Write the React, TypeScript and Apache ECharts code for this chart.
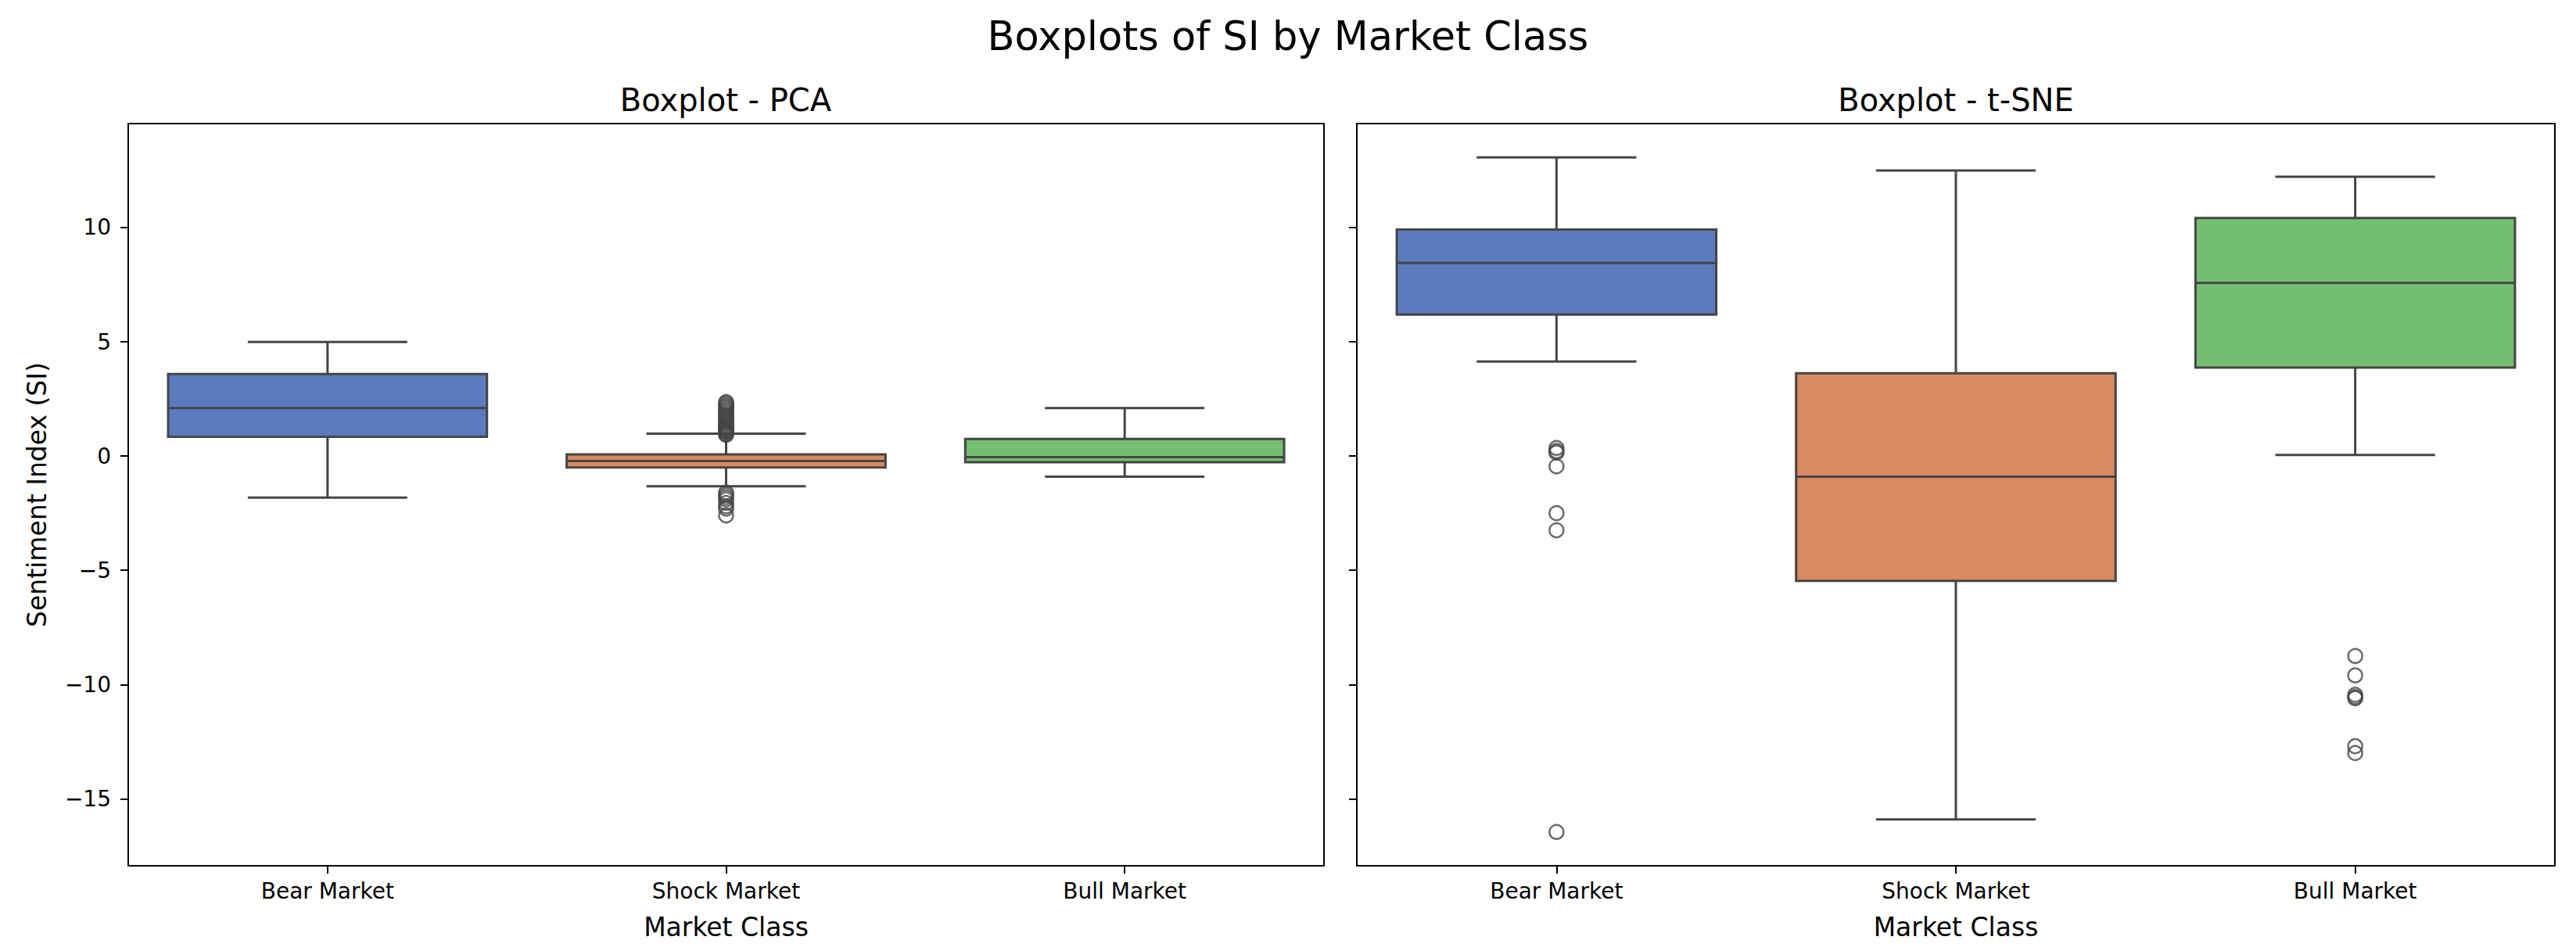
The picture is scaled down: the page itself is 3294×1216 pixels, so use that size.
import React, { useEffect, useRef } from "react";
import * as echarts from "echarts";

// ---------- data ----------
const categories = ["Bear Market", "Shock Market", "Bull Market"];
const yTicks = [-15, -10, -5, 0, 5, 10];

// [min whisker, Q1, median, Q3, max whisker]
const pcaBear = [-1.82, 0.84, 2.1, 3.59, 4.99];
const pcaShock = [-1.32, -0.5, -0.22, 0.07, 0.98];
const pcaBull = [-0.9, -0.27, -0.05, 0.75, 2.1];

const tsneBear = [4.14, 6.19, 8.45, 9.91, 13.07];
const tsneShock = [-15.9, -5.46, -0.9, 3.62, 12.5];
const tsneBull = [0.05, 3.87, 7.58, 10.42, 12.22];

// outliers
const pcaShockOutliers = [
  0.92, 0.96, 1.02, 1.06, 1.1, 1.14, 1.18, 1.22, 1.27, 1.32, 1.38, 1.44, 1.5, 1.57, 1.63,
  1.7, 1.78, 1.85, 1.93, 2.0, 2.08, 2.15, 2.22, 2.3, 2.36,
  -1.6, -1.7, -1.8, -1.9, -2.05, -2.2, -2.3, -2.6,
];
const tsneBearOutliers = [0.35, 0.22, 0.15, -0.45, -2.5, -3.25, -16.45];
const tsneBullOutliers = [-8.75, -9.6, -10.45, -10.55, -10.6, -12.7, -13.0];

const COLORS = ["#5a7bbe", "#d98a5f", "#73bf6f"];
const LINE = "#454545";
const FONT = "DejaVu Sans";

const Y_MIN = -17.93;
const Y_MAX = 14.55;

function boxData(list: number[][]) {
  return list.map((b, i) => [i, ...b]);
}

function renderBox(params: any, api: any) {
  const x = api.value(0);
  const lo = api.coord([x, api.value(1)]);
  const q1 = api.coord([x, api.value(2)]);
  const med = api.coord([x, api.value(3)]);
  const q3 = api.coord([x, api.value(4)]);
  const hi = api.coord([x, api.value(5)]);
  const band = api.size([1, 0])[0];
  const bw = band * 0.8;
  const cw = bw / 2;
  const cx = lo[0];
  const ls = { stroke: LINE, lineWidth: 3, fill: "none" };
  return {
    type: "group",
    children: [
      { type: "line", shape: { x1: cx, y1: q3[1], x2: cx, y2: hi[1] }, style: ls },
      { type: "line", shape: { x1: cx, y1: q1[1], x2: cx, y2: lo[1] }, style: ls },
      { type: "line", shape: { x1: cx - cw / 2, y1: hi[1], x2: cx + cw / 2, y2: hi[1] }, style: ls },
      { type: "line", shape: { x1: cx - cw / 2, y1: lo[1], x2: cx + cw / 2, y2: lo[1] }, style: ls },
      {
        type: "rect",
        shape: { x: cx - bw / 2, y: q3[1], width: bw, height: q1[1] - q3[1] },
        style: { fill: COLORS[params.dataIndex], stroke: LINE, lineWidth: 3 },
      },
      { type: "line", shape: { x1: cx - bw / 2, y1: med[1], x2: cx + bw / 2, y2: med[1] }, style: ls },
    ],
  };
}

function fmt(v: number) {
  return v < 0 ? "\u2212" + Math.abs(v) : String(v);
}

export default function App() {
  const ref = useRef<HTMLDivElement>(null);
  useEffect(() => {
    document.body.style.margin = "0";
    if (!ref.current) return;
    const chart = echarts.init(ref.current, null, { renderer: "svg" });

    const grids = [
      { left: 164, top: 158, width: 1529, height: 949 },
      { left: 1735, top: 158, width: 1532, height: 949 },
    ];

    const xAxes = grids.map((_, i) => ({
      type: "category",
      gridIndex: i,
      data: categories,
      boundaryGap: true,
      name: "Market Class",
      nameLocation: "middle",
      nameGap: 62,
      nameTextStyle: { fontSize: 33, fontFamily: FONT, color: "#000" },
      axisLine: { show: true, onZero: false, lineStyle: { color: "#000", width: 2 } },
      axisTick: { show: true, alignWithLabel: true, length: 10, lineStyle: { color: "#000", width: 2 } },
      axisLabel: { fontSize: 28, fontFamily: FONT, color: "#000", margin: 18 },
      splitLine: { show: false },
    }));

    const yAxes = grids.map((_, i) => ({
      type: "value",
      gridIndex: i,
      min: Y_MIN,
      max: Y_MAX,
      name: i === 0 ? "Sentiment Index (SI)" : "",
      nameLocation: "middle",
      nameGap: 100,
      nameTextStyle: { fontSize: 33, fontFamily: FONT, color: "#000" },
      axisLine: { show: true, onZero: false, lineStyle: { color: "#000", width: 2 } },
      axisTick: { show: true, length: 10, customValues: yTicks, lineStyle: { color: "#000", width: 2 } },
      axisLabel: {
        show: i === 0,
        customValues: yTicks,
        fontSize: 28,
        fontFamily: FONT,
        color: "#000",
        margin: 22,
        formatter: (v: number) => fmt(v),
      },
      splitLine: { show: false },
    }));

    const option: any = {
      animation: false,
      backgroundColor: "#fff",
      grid: grids.map((g) => ({ ...g, show: true, borderColor: "#000", borderWidth: 2, backgroundColor: "transparent" })),
      xAxis: xAxes,
      yAxis: yAxes,
      graphic: [
        {
          type: "text",
          x: 1647,
          y: 46,
          style: { text: "Boxplots of SI by Market Class", fontSize: 51, fontFamily: FONT, fill: "#000", align: "center", verticalAlign: "middle" },
        },
        {
          type: "text",
          x: 928,
          y: 128,
          style: { text: "Boxplot - PCA", fontSize: 40, fontFamily: FONT, fill: "#000", align: "center", verticalAlign: "middle" },
        },
        {
          type: "text",
          x: 2501,
          y: 128,
          style: { text: "Boxplot - t-SNE", fontSize: 40, fontFamily: FONT, fill: "#000", align: "center", verticalAlign: "middle" },
        },
      ],
      series: [
        {
          type: "custom",
          name: "PCA",
          xAxisIndex: 0,
          yAxisIndex: 0,
          renderItem: renderBox,
          encode: { x: 0, y: [1, 2, 3, 4, 5] },
          data: boxData([pcaBear, pcaShock, pcaBull]),
          z: 2,
        },
        {
          type: "custom",
          name: "t-SNE",
          xAxisIndex: 1,
          yAxisIndex: 1,
          renderItem: renderBox,
          encode: { x: 0, y: [1, 2, 3, 4, 5] },
          data: boxData([tsneBear, tsneShock, tsneBull]),
          z: 2,
        },
        {
          type: "scatter",
          name: "PCA outliers",
          xAxisIndex: 0,
          yAxisIndex: 0,
          symbol: "circle",
          symbolSize: 18,
          itemStyle: { color: "rgba(255,255,255,0)", borderColor: LINE, borderWidth: 2.5 },
          data: pcaShockOutliers.map((v) => [1, v]),
          z: 3,
        },
        {
          type: "scatter",
          name: "t-SNE outliers",
          xAxisIndex: 1,
          yAxisIndex: 1,
          symbol: "circle",
          symbolSize: 18,
          itemStyle: { color: "rgba(255,255,255,0)", borderColor: LINE, borderWidth: 2.5 },
          data: [
            ...tsneBearOutliers.map((v) => [0, v]),
            ...tsneBullOutliers.map((v) => [2, v]),
          ],
          z: 3,
        },
      ],
    };
    chart.setOption(option);
    return () => chart.dispose();
  }, []);
  return <div ref={ref} style={{ width: 3294, height: 1216 }} />;
}
